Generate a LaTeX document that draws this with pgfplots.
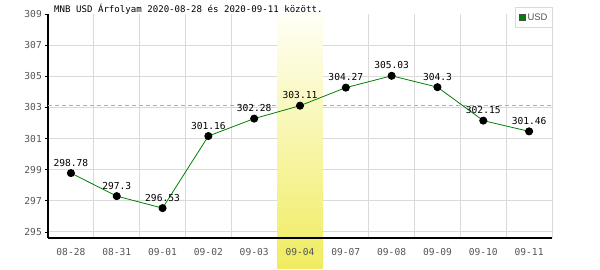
\documentclass[border=0pt]{standalone}
\usepackage{pgfplots}
\pgfplotsset{compat=1.18}
\usepackage{fontspec}
\setmainfont{Liberation Sans}
\setmonofont{DejaVu Sans Mono}
\definecolor{linegreen}{RGB}{0,128,0}
\definecolor{gridgray}{RGB}{218,218,218}
\definecolor{bandyellow}{RGB}{240,236,96}
\definecolor{bandtop}{RGB}{255,255,246}
\definecolor{dashgreen}{RGB}{140,200,140}
\definecolor{ticklab}{RGB}{85,85,85}
\pgfdeclarelayer{band}
\pgfplotsset{
 layers/mylayers/.define layer set={axis background,axis grid,band,axis ticks,axis lines,axis tick labels,pre main,main,axis descriptions,axis foreground}{
   grid style={/pgfplots/on layer=axis grid},
   tick style={/pgfplots/on layer=axis ticks},
   axis line style={/pgfplots/on layer=axis lines},
   label style={/pgfplots/on layer=axis descriptions},
   legend style={/pgfplots/on layer=axis foreground},
   title style={/pgfplots/on layer=axis descriptions},
   colorbar style={/pgfplots/on layer=axis descriptions},
   ticklabel style={/pgfplots/on layer=axis tick labels},
   axis background@ style={/pgfplots/on layer=axis background},
   3d box foreground style={/pgfplots/on layer=axis foreground},
 },
}
\begin{document}
\begin{tikzpicture}
\begin{axis}[
  set layers=mylayers,
  scale only axis,
  width=504bp, height=224bp,
  clip=false,
  xmin=-0.5, xmax=10.5,
  ymin=294.61, ymax=309,
  axis x line*=bottom, axis y line*=left,
  axis line style={-, black, line width=1.1bp},
  xtick={0,...,10},
  xticklabels={08-28,08-31,09-01,09-02,09-03,09-04,09-07,09-08,09-09,09-10,09-11},
  minor xtick={0.5,1.5,...,9.5},
  minor x grid style={gridgray, line width=0.9bp},
  xminorgrids,
  xtick style={draw=none},
  minor tick length=0pt,
  ytick={295,297,...,307},
  extra y ticks={309},
  extra y tick style={grid=none},
  ymajorgrids,
  major grid style={gridgray, line width=0.9bp},
  ytick style={black, line width=0.8bp},
  tick align=outside,
  major tick length=3bp,
  /pgf/number format/assume math mode=true,
  ticklabel style={font=\fontsize{9.6bp}{10bp}\selectfont\ttfamily, text=ticklab},
  xticklabel style={anchor=base, yshift=-14bp, inner sep=0pt},
  yticklabel style={anchor=east, inner sep=0pt, xshift=-3bp},
  title={MNB USD Árfolyam 2020-08-28 és 2020-09-11 között.},
  title style={at={(rel axis cs:0,1)}, anchor=base west, xshift=6bp, yshift=-4bp, inner sep=0pt, font=\fontsize{9.1bp}{10bp}\selectfont\ttfamily, text=black},
  legend style={at={(rel axis cs:1,1)}, anchor=north east, xshift=1bp, yshift=7bp, draw=gridgray, line width=0.9bp, font=\fontsize{9.5bp}{10bp}\selectfont, text=ticklab, inner xsep=3bp, inner ysep=4bp, row sep=0pt},
]
\coordinate (sw) at (rel axis cs:0,0);
% highlighted day band
\addplot[on layer=band, draw=none, top color=bandtop, bottom color=bandyellow, forget plot] coordinates {(4.5,309) (5.5,309) (5.5,292.68) (4.5,292.68)} -- cycle;
% right border
\addplot[gridgray, line width=0.9bp, forget plot] coordinates {(10.5,294.61) (10.5,309)};
% reference line at the highlighted day's value (hidden behind the band)
\addplot[dashgreen, dash pattern=on 4bp off 3bp, line width=0.9bp, forget plot] coordinates {(-0.5,303.11) (4.5,303.11)};
\addplot[dashgreen, dash pattern=on 4bp off 3bp, line width=0.9bp, forget plot] coordinates {(5.5,303.11) (10.5,303.11)};
% series
\addplot[linegreen, line width=0.8bp, mark=*, mark size=3.6bp, mark options={draw=black, fill=black, solid},
  nodes near coords, point meta=explicit symbolic,
  every node near coord/.append style={font=\fontsize{9.6bp}{10bp}\selectfont\ttfamily, text=black, anchor=base, yshift=7bp, inner sep=0pt},
  forget plot]
coordinates {
 (0,298.78) [298.78]
 (1,297.3) [297.3]
 (2,296.53) [296.53]
 (3,301.16) [301.16]
 (4,302.28) [302.28]
 (5,303.11) [303.11]
 (6,304.27) [304.27]
 (7,305.03) [305.03]
 (8,304.3) [304.3]
 (9,302.15) [302.15]
 (10,301.46) [301.46]
};
\addlegendimage{legend image code/.code={\draw[draw=black!70, fill=linegreen, line width=0.6bp] (0bp,-3bp) rectangle (6bp,3bp);}}
\addlegendentry{USD}
\end{axis}
\path (sw) ++(-48bp,-32bp) rectangle ++(600bp,270bp);
\end{tikzpicture}
\end{document}
